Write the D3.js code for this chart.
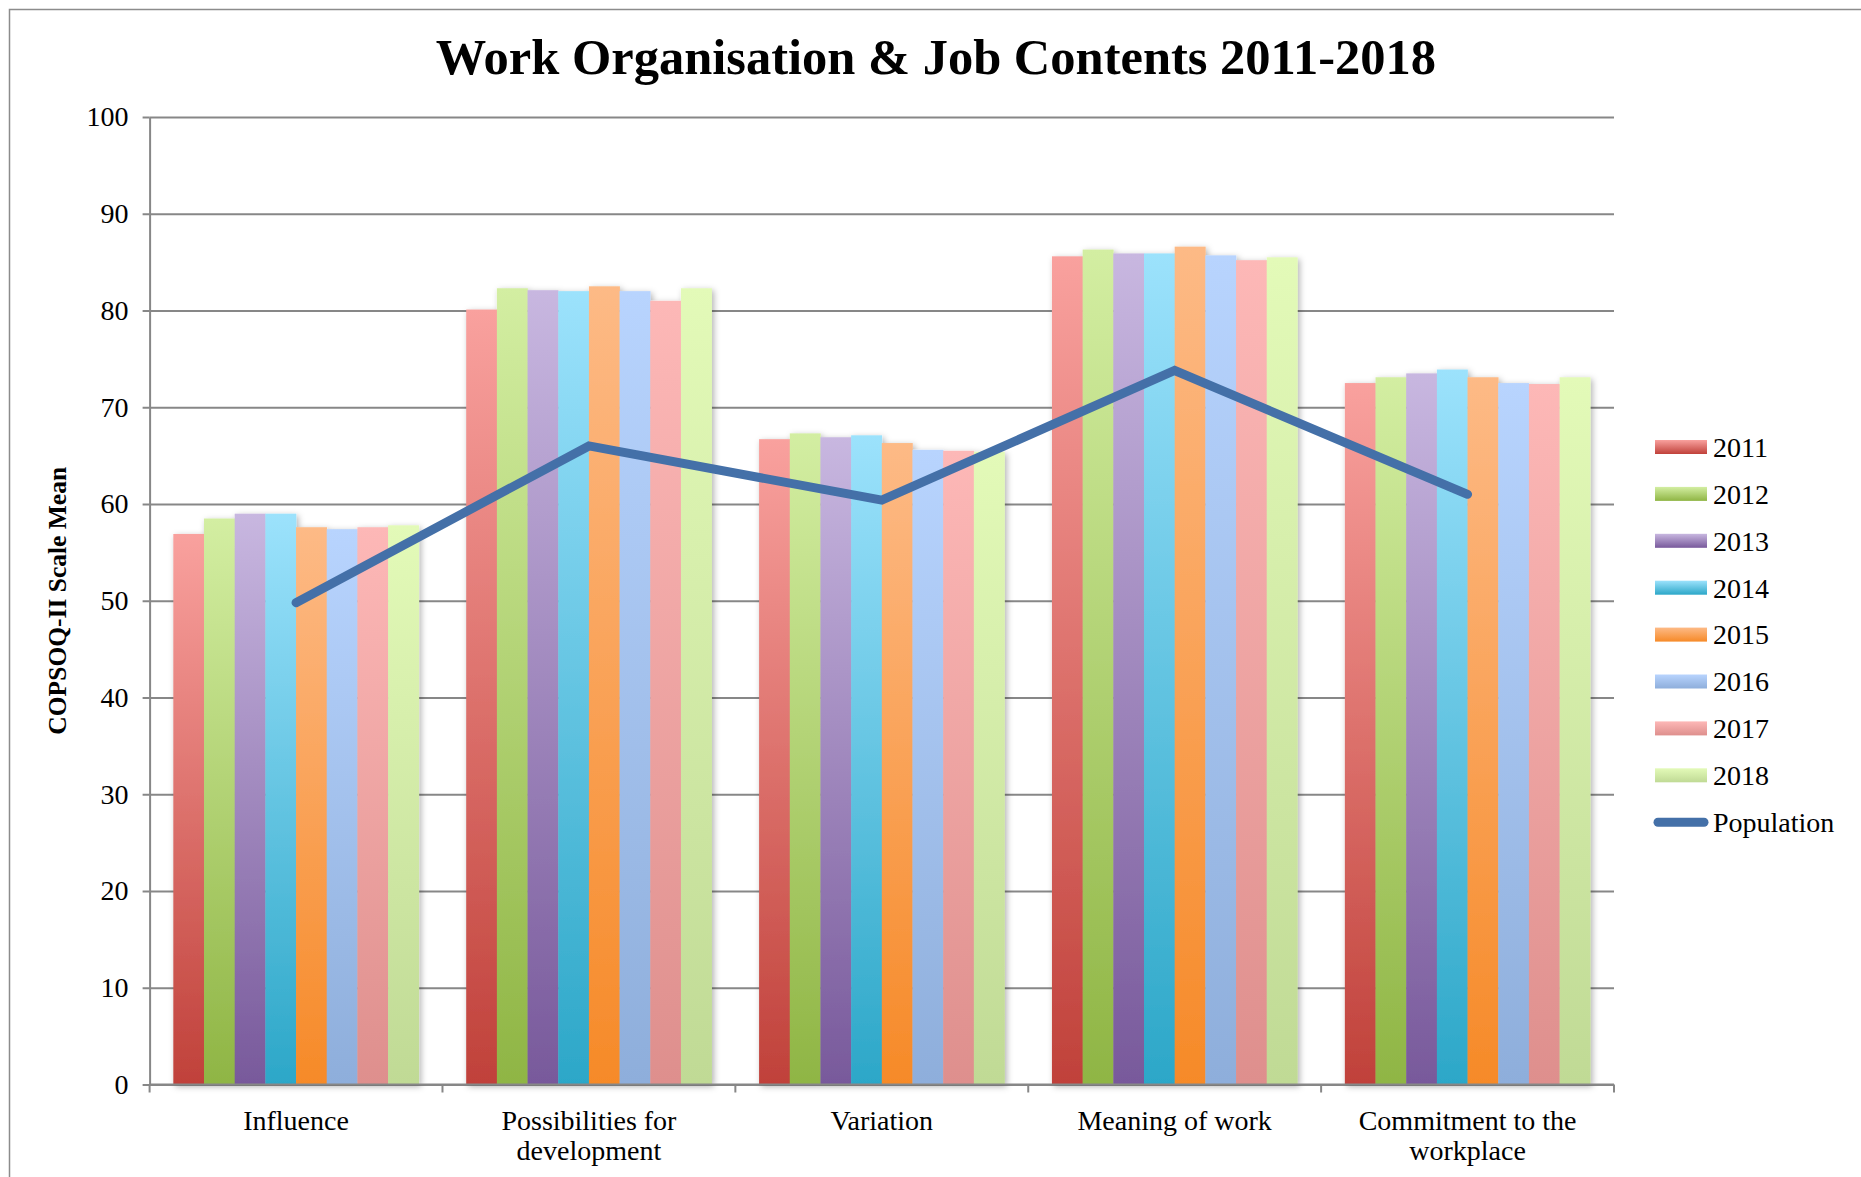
<!DOCTYPE html>
<html>
<head>
<meta charset="utf-8">
<script src="https://cdn.jsdelivr.net/npm/d3@7"></script>
<style>
  html, body { margin: 0; padding: 0; background: #fff; }
  svg { display: block; }
  text { font-family: "Liberation Serif", "DejaVu Serif", serif; fill: #000; }
</style>
</head>
<body>
<svg id="chart" width="1861" height="1177"></svg>
<script>
// Scale means per year, one value per category
const categories = ["Influence", "Possibilities for development", "Variation", "Meaning of work", "Commitment to the workplace"];
const years = ["2011", "2012", "2013", "2014", "2015", "2016", "2017", "2018"];
const v2011 = [56.9, 80.1, 66.7, 85.6, 72.5];
const v2012 = [58.5, 82.3, 67.3, 86.3, 73.1];
const v2013 = [59.0, 82.1, 66.9, 85.9, 73.5];
const v2014 = [59.0, 82.0, 67.1, 85.9, 73.9];
const v2015 = [57.6, 82.5, 66.3, 86.6, 73.1];
const v2016 = [57.4, 82.0, 65.6, 85.7, 72.5];
const v2017 = [57.6, 81.0, 65.5, 85.2, 72.4];
const v2018 = [57.8, 82.3, 65.4, 85.5, 73.1];
const population = [49.8, 66.0, 60.4, 73.8, 61.0];
const yTicks = [0, 10, 20, 30, 40, 50, 60, 70, 80, 90, 100];

const seriesValues = [v2011, v2012, v2013, v2014, v2015, v2016, v2017, v2018];
// light (top) and dark (bottom) stop for each year's gradient
const colorTop = ["#f9a19e", "#d3eea2", "#c8b7e0", "#9ce2fc", "#fdba86", "#b8d4fe", "#fdb8b7", "#e3fab8"];
const colorBottom = ["#c0413a", "#8fb544", "#78599b", "#2ca7c8", "#f68a28", "#8eaedb", "#de8f8d", "#c0da95"];
const popColor = "#4470a8";
const gridColor = "#878787";

const svg = d3.select("#chart");
const W = 1861, H = 1177;
const plot = { left: 149.6, right: 1614, top: 117, bottom: 1084.5 };

// chart frame
svg.append("rect")
  .attr("x", 9.5).attr("y", 9.5)
  .attr("width", W + 20).attr("height", H + 20)
  .attr("fill", "none").attr("stroke", "#8c8c8c").attr("stroke-width", 1.5);

const defs = svg.append("defs");
years.forEach((yr, i) => {
  const g = defs.append("linearGradient").attr("id", "grad" + yr)
    .attr("x1", 0).attr("y1", 0).attr("x2", 0).attr("y2", 1);
  g.append("stop").attr("offset", "0%").attr("stop-color", colorTop[i]);
  g.append("stop").attr("offset", "100%").attr("stop-color", colorBottom[i]);
});
const shadow = defs.append("filter").attr("id", "shadow")
  .attr("x", "-10%").attr("y", "-10%").attr("width", "120%").attr("height", "120%");
shadow.append("feDropShadow").attr("dx", 2).attr("dy", 2).attr("stdDeviation", 3)
  .attr("flood-color", "#000").attr("flood-opacity", 0.3);

const x = d3.scaleBand().domain(categories)
  .range([plot.left, plot.right]).paddingInner(0.162).paddingOuter(0.081);
const xs = d3.scaleBand().domain(years).range([0, x.bandwidth()]);
const y = d3.scaleLinear().domain([0, 100]).range([plot.bottom, plot.top]);

// title
svg.append("text")
  .attr("x", 936).attr("y", 74)
  .attr("text-anchor", "middle")
  .style("font-size", "50.5px").style("font-weight", "bold")
  .text("Work Organisation & Job Contents 2011-2018");

// gridlines
const grid = svg.append("g").attr("transform", `translate(${plot.left},0)`)
  .call(d3.axisLeft(y).tickValues(yTicks).tickSize(-(plot.right - plot.left)).tickFormat(""));
grid.select(".domain").remove();
grid.selectAll("line").attr("stroke", gridColor).attr("stroke-width", 2);

// y axis with outward ticks
const yAxis = svg.append("g").attr("transform", `translate(${plot.left},0)`)
  .call(d3.axisLeft(y).tickValues(yTicks).tickSize(7).tickSizeOuter(0).tickPadding(14));
yAxis.select(".domain").attr("stroke", gridColor).attr("stroke-width", 2);
yAxis.selectAll("line").attr("stroke", gridColor).attr("stroke-width", 2);
yAxis.selectAll("text").style("font-size", "28px")
  .style("font-family", "'Liberation Serif', serif").attr("fill", "#000");

// y axis title
svg.append("text")
  .attr("transform", `translate(66,${(plot.top + plot.bottom) / 2}) rotate(-90)`)
  .attr("text-anchor", "middle")
  .style("font-size", "25.5px").style("font-weight", "bold")
  .text("COPSOQ-II Scale Mean");

// bars, one cluster per category
const groups = svg.append("g").selectAll("g.cluster")
  .data(categories).join("g")
  .attr("class", "cluster")
  .attr("transform", c => `translate(${x(c)},0)`)
  .attr("filter", "url(#shadow)");
groups.selectAll("rect")
  .data((c, ci) => years.map((yr, si) => ({ yr, v: seriesValues[si][ci] })))
  .join("rect")
  .attr("x", d => xs(d.yr))
  .attr("width", xs.bandwidth() + 0.3)
  .attr("y", d => y(d.v))
  .attr("height", d => y(0) - y(d.v))
  .attr("fill", d => `url(#grad${d.yr})`);

// x axis line and category boundary ticks
const boundaries = categories.map(c => x(c) - (x.step() - x.bandwidth()) / 2).concat([plot.right]);
svg.append("line")
  .attr("x1", plot.left).attr("x2", plot.right)
  .attr("y1", y(0)).attr("y2", y(0))
  .attr("stroke", gridColor).attr("stroke-width", 2);
svg.append("g").selectAll("line").data(boundaries).join("line")
  .attr("x1", d => d).attr("x2", d => d)
  .attr("y1", y(0)).attr("y2", y(0) + 8)
  .attr("stroke", gridColor).attr("stroke-width", 2);

// category labels, wrapped to the band width
const labels = svg.append("g").selectAll("text").data(categories).join("text")
  .attr("x", c => x(c) + x.bandwidth() / 2)
  .attr("y", 1130)
  .attr("text-anchor", "middle")
  .style("font-size", "28px");
labels.each(function (c) {
  const t = d3.select(this);
  const words = c.split(" ");
  let line = [];
  let tspan = t.append("tspan").attr("x", t.attr("x")).attr("dy", 0);
  words.forEach(w => {
    line.push(w);
    tspan.text(line.join(" "));
    if (tspan.node().getComputedTextLength() > 236 && line.length > 1) {
      line.pop();
      tspan.text(line.join(" "));
      line = [w];
      tspan = t.append("tspan").attr("x", t.attr("x")).attr("dy", 30).text(w);
    }
  });
});

// population line through category centres
const popLine = d3.line()
  .x((d, i) => x(categories[i]) + x.bandwidth() / 2)
  .y(d => y(d));
svg.append("path")
  .datum(population)
  .attr("d", popLine)
  .attr("fill", "none")
  .attr("stroke", popColor)
  .attr("stroke-width", 9)
  .attr("stroke-linecap", "round")
  .attr("stroke-linejoin", "miter");

// legend
const legend = svg.append("g").attr("transform", "translate(1655,447)");
const legendStep = 46.9;
years.forEach((yr, i) => {
  const row = legend.append("g").attr("transform", `translate(0,${i * legendStep})`);
  const lg = defs.append("linearGradient").attr("id", "lgrad" + yr)
    .attr("x1", 0).attr("y1", 0).attr("x2", 0).attr("y2", 1);
  lg.append("stop").attr("offset", "0%").attr("stop-color", colorTop[i]);
  lg.append("stop").attr("offset", "100%").attr("stop-color", colorBottom[i]);
  row.append("rect").attr("x", 0).attr("y", -7).attr("width", 52).attr("height", 14)
    .attr("fill", `url(#lgrad${yr})`);
  row.append("text").attr("x", 58).attr("y", 0).attr("dy", "0.35em")
    .style("font-size", "28px").text(yr);
});
const popRow = legend.append("g").attr("transform", `translate(0,${years.length * legendStep})`);
popRow.append("line").attr("x1", 3).attr("x2", 49).attr("y1", 0).attr("y2", 0)
  .attr("stroke", popColor).attr("stroke-width", 9).attr("stroke-linecap", "round");
popRow.append("text").attr("x", 58).attr("y", 0).attr("dy", "0.35em")
  .style("font-size", "28px").text("Population");
</script>
</body>
</html>
